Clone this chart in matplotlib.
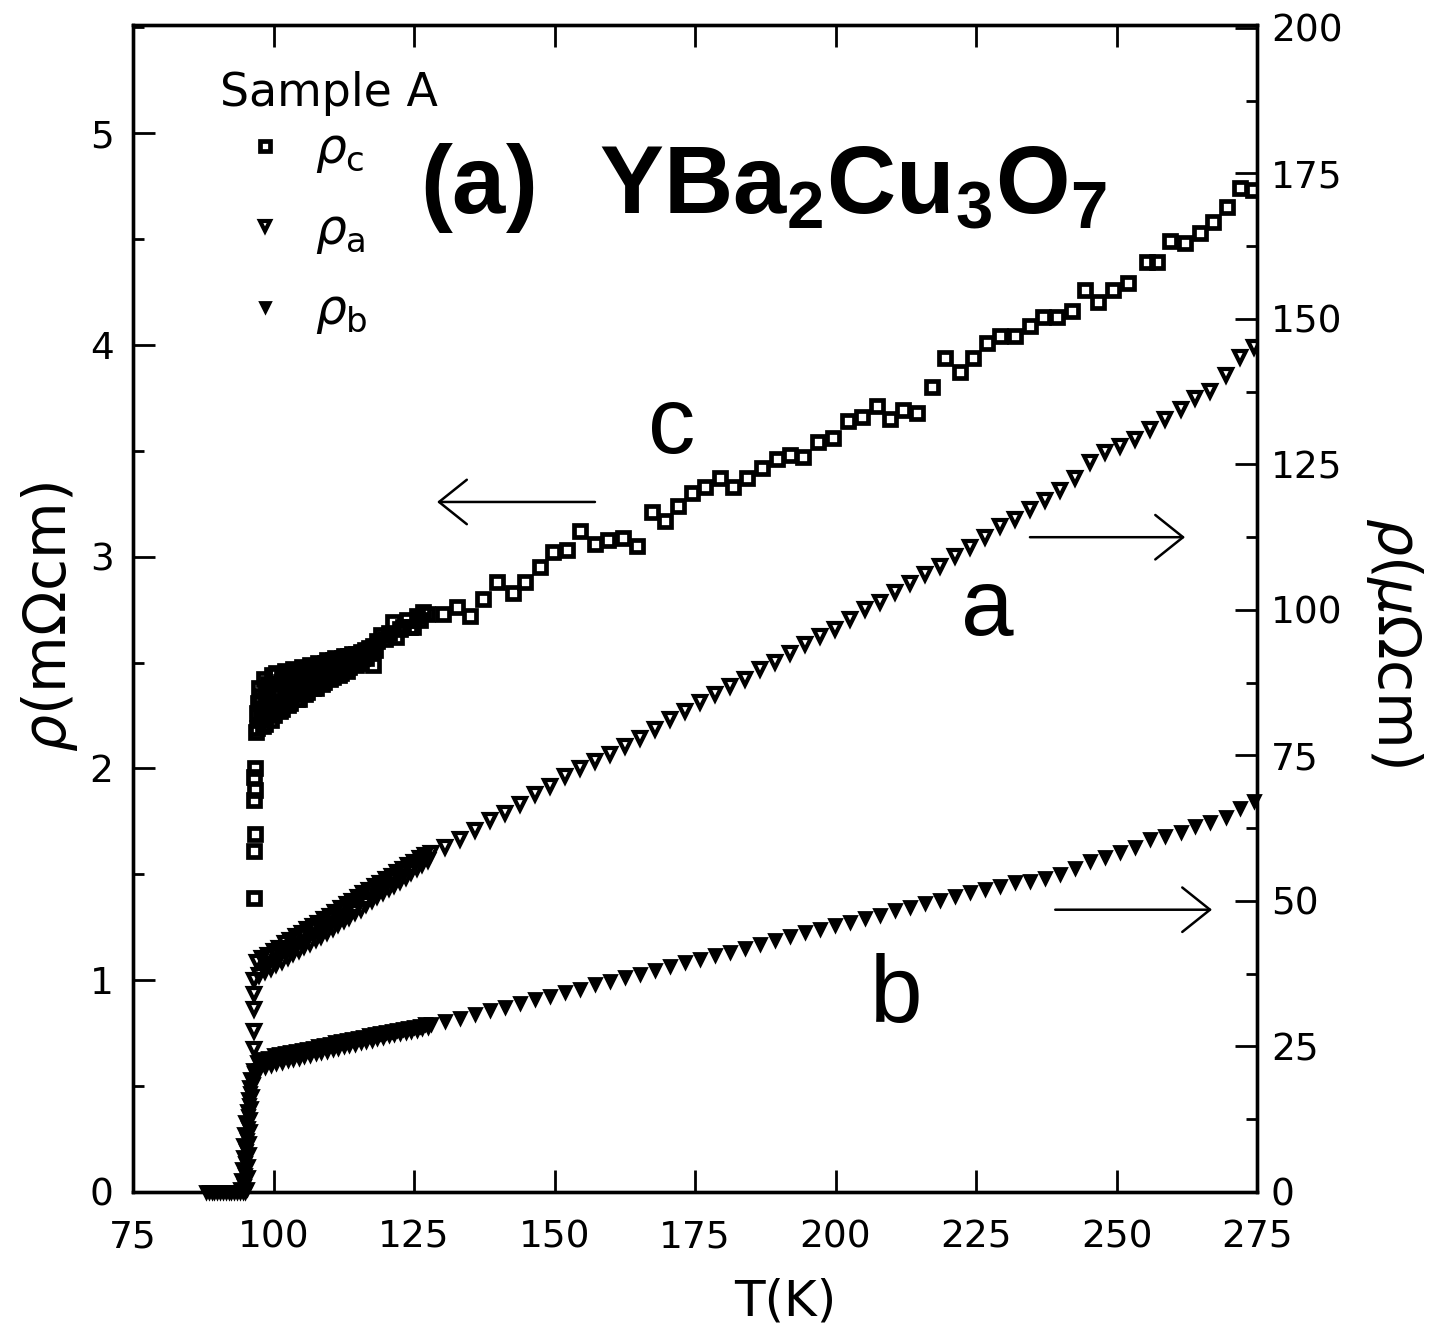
import matplotlib
matplotlib.use('Agg')
import matplotlib.pyplot as plt
from matplotlib import font_manager
from matplotlib.ticker import MultipleLocator

# values
# rho_c in mOhm cm (left axis), rho_a and rho_b in uOhm cm (right axis)

# c-axis: superconducting drop, dense band, then sparse points
T_c_drop = [96.6, 96.6, 96.7, 96.6, 96.7, 96.6, 96.7, 96.8]
rho_c_drop = [1.39, 1.61, 1.69, 1.85, 1.90, 1.96, 2.00, 2.17]

T_c_band = [97.0, 97.5, 98.0, 98.5, 99.0, 99.5, 100.0, 100.5, 101.0, 101.5,
            102.0, 102.5, 103.0, 103.5, 104.0, 104.5, 105.0, 105.5, 106.0, 106.5,
            107.0, 107.5, 108.0, 108.5, 109.0, 109.5, 110.0, 110.5, 111.0, 111.5,
            112.0, 112.5, 113.0, 113.5, 114.0, 114.5, 115.0, 115.5, 116.0, 116.5,
            117.0, 117.5, 118.0, 117.7, 118.5, 119.2, 119.8, 120.5, 121.3, 121.8,
            122.5, 123.0, 123.8, 124.3, 124.8, 125.5, 126.0, 126.6]
rho_c_band = [2.19, 2.38, 2.28, 2.21, 2.40, 2.30, 2.25, 2.45, 2.35, 2.28,
              2.46, 2.37, 2.31, 2.47, 2.39, 2.33, 2.48, 2.41, 2.36, 2.49,
              2.43, 2.38, 2.50, 2.44, 2.41, 2.51, 2.46, 2.43, 2.52, 2.47,
              2.45, 2.53, 2.49, 2.48, 2.54, 2.51, 2.50, 2.55, 2.53, 2.52,
              2.57, 2.56, 2.56, 2.49, 2.60, 2.63, 2.61, 2.64, 2.69, 2.62,
              2.66, 2.67, 2.70, 2.67, 2.67, 2.72, 2.70, 2.74]
T_c_fill = [97.25, 97.75, 98.25, 98.75, 99.25, 99.75, 100.25, 100.75, 101.25, 101.75,
            102.25, 102.75, 103.25, 103.75, 104.25, 104.75, 105.25, 105.75, 106.25, 106.75,
            107.25, 107.75, 108.25, 108.75, 109.25, 109.75, 110.25, 110.75, 111.25, 111.75,
            112.25, 112.75, 113.25, 113.75, 114.25, 114.75, 115.25, 115.75, 116.25, 116.75,
            117.25, 117.75]
rho_c_fill = [2.31, 2.24, 2.42, 2.33, 2.27, 2.44, 2.36, 2.30, 2.41, 2.44,
              2.33, 2.43, 2.39, 2.35, 2.45, 2.42, 2.38, 2.47, 2.44, 2.40,
              2.48, 2.46, 2.42, 2.49, 2.47, 2.45, 2.50, 2.49, 2.46, 2.51,
              2.50, 2.48, 2.53, 2.51, 2.50, 2.54, 2.53, 2.52, 2.56, 2.55,
              2.55, 2.58]
T_c_fill2 = [97.1, 97.6, 98.1, 98.6, 99.1, 99.6, 100.1, 100.6, 101.1, 101.6,
             102.1, 102.6, 103.1, 103.6, 104.1, 104.6, 105.1, 105.6, 106.1, 106.6,
             107.1, 107.6, 108.1, 108.6, 109.1, 109.6, 110.1, 110.6, 111.1, 111.6,
             112.1, 112.6, 113.1, 113.6, 114.1, 114.6]
rho_c_fill2 = [2.26, 2.34, 2.20, 2.37, 2.32, 2.23, 2.40, 2.32, 2.27, 2.42,
               2.34, 2.30, 2.44, 2.36, 2.33, 2.46, 2.39, 2.35, 2.47, 2.41,
               2.38, 2.48, 2.43, 2.40, 2.50, 2.45, 2.42, 2.51, 2.47, 2.44,
               2.52, 2.49, 2.46, 2.53, 2.51, 2.49]

T_c_tail = [127.3, 130.2, 132.7, 135.0, 137.3, 139.8, 142.6, 144.8, 147.4, 149.7,
            152.2, 154.5, 157.2, 159.5, 162.2, 164.7, 167.3, 169.7, 172.0, 174.5,
            176.8, 179.4, 181.8, 184.3, 186.9, 189.6, 191.9, 194.2, 196.9, 199.6,
            202.2, 204.7, 207.4, 209.7, 212.0, 214.5, 217.2, 219.5, 222.2, 224.5,
            227.0, 229.3, 231.9, 234.6, 236.9, 239.4, 242.1, 244.4, 246.7, 249.4,
            252.0, 255.4, 257.2, 259.5, 262.2, 264.9, 267.2, 269.7, 272.0, 274.3]
rho_c_tail = [2.73, 2.73, 2.76, 2.72, 2.80, 2.88, 2.83, 2.88, 2.95, 3.02,
              3.03, 3.12, 3.06, 3.08, 3.09, 3.05, 3.21, 3.17, 3.24, 3.30,
              3.33, 3.37, 3.33, 3.37, 3.42, 3.46, 3.48, 3.47, 3.54, 3.56,
              3.64, 3.66, 3.71, 3.65, 3.69, 3.68, 3.80, 3.94, 3.87, 3.94,
              4.01, 4.04, 4.04, 4.09, 4.13, 4.13, 4.16, 4.26, 4.20, 4.26,
              4.29, 4.39, 4.39, 4.49, 4.48, 4.53, 4.58, 4.65, 4.74, 4.73]

# a- and b-axis share the temperature grid of the dense band and the sparse tail
T_band = [97.0, 97.5, 98.0, 98.5, 99.0, 99.5, 100.0, 100.5, 101.0, 101.5,
          102.0, 102.5, 103.0, 103.5, 104.0, 104.5, 105.0, 105.5, 106.0, 106.5,
          107.0, 107.5, 108.0, 108.5, 109.0, 109.5, 110.0, 110.5, 111.0, 111.5,
          112.0, 112.5, 113.0, 113.5, 114.0, 114.5, 115.0, 115.5, 116.0, 116.5,
          117.0, 117.5, 118.0, 118.5, 119.0, 119.5, 120.0, 120.5, 121.0, 121.5,
          122.0, 122.5, 123.0, 123.5, 124.0, 124.5, 125.0, 125.5, 126.0, 126.5,
          127.0, 127.5, 128.0]
T_tail = [130.5, 133.2, 135.8, 138.5, 141.2, 143.9, 146.5, 149.2, 151.9, 154.5,
          157.2, 159.9, 162.6, 165.2, 167.9, 170.6, 173.2, 175.9, 178.6, 181.2,
          183.9, 186.6, 189.3, 191.9, 194.6, 197.3, 199.9, 202.6, 205.3, 207.9,
          210.6, 213.3, 216.0, 218.6, 221.3, 224.0, 226.6, 229.3, 232.0, 234.6,
          237.3, 240.0, 242.7, 245.3, 248.0, 250.7, 253.3, 256.0, 258.7, 261.4,
          264.0, 266.7, 269.4, 272.0, 274.4]

T_a_drop = [96.5, 96.6, 96.6, 96.5, 96.6]
rho_a_drop = [24.5, 27.6, 31.4, 34.0, 36.5]
rho_a_band = [39.5, 37.2, 40.2, 37.9, 40.8, 38.5, 41.4, 39.1, 42.0, 39.7,
              42.7, 40.4, 43.3, 41.0, 43.9, 41.6, 44.5, 42.2, 45.1, 42.8,
              45.7, 43.4, 46.3, 44.0, 46.9, 44.6, 47.5, 45.4, 48.1, 46.0,
              48.8, 46.7, 49.4, 47.3, 50.0, 48.1, 50.6, 48.7, 51.3, 49.4,
              51.9, 50.1, 52.5, 50.8, 53.1, 51.5, 53.7, 52.2, 54.3, 52.8,
              54.9, 53.5, 55.5, 54.2, 56.1, 54.9, 56.7, 55.6, 57.3, 56.4,
              57.9, 57.1, 58.3]
rho_a_tail = [59.3, 60.7, 62.2, 63.9, 65.2, 66.6, 68.3, 69.8, 71.4, 72.8,
              74.1, 75.3, 76.6, 78.0, 79.6, 81.2, 82.7, 84.2, 85.6, 86.9,
              88.2, 89.8, 91.1, 92.6, 94.1, 95.6, 96.8, 98.4, 100.1, 101.4,
              103.0, 104.6, 106.1, 107.6, 109.3, 110.9, 112.6, 114.4, 115.7, 117.3,
              118.9, 120.6, 122.6, 125.4, 127.1, 128.2, 129.4, 131.1, 132.8, 134.6,
              136.5, 137.7, 140.4, 143.5, 145.2]

T_b_drop = [88.0, 88.5, 89.0, 89.5, 90.0, 90.5, 91.0, 91.5, 92.0, 92.5,
            93.0, 93.5, 94.0, 94.5, 95.0,
            94.0, 94.2, 94.4, 94.5, 94.6, 94.8, 95.0, 95.2, 95.4, 95.6, 95.8,
            94.7, 94.9, 95.0, 95.1, 95.2, 95.4, 95.5, 95.7, 95.9, 96.1, 96.3,
            95.2, 95.4, 95.5, 95.6, 95.7, 95.8, 95.9, 96.0, 96.1, 96.3, 96.5]
rho_b_drop = [0.0, 0.0, 0.0, 0.0, 0.0, 0.0, 0.0, 0.0, 0.0, 0.0,
              0.0, 0.0, 0.0, 0.0, 0.0,
              0.5, 2.0, 4.0, 6.0, 8.0, 10.0, 12.0, 14.0, 16.0, 18.0, 19.5,
              1.0, 3.0, 5.0, 7.0, 9.0, 11.0, 13.0, 15.0, 17.0, 19.0, 21.0,
              0.5, 2.5, 4.5, 6.5, 8.5, 10.5, 12.5, 14.5, 16.5, 18.5, 20.5]
rho_b_band = [22.4, 20.9, 22.9, 21.5, 23.1, 21.9, 23.5, 22.2, 23.7, 22.4,
              23.9, 22.7, 24.0, 22.9, 24.2, 23.1, 24.4, 23.3, 24.6, 23.6,
              24.8, 23.8, 25.0, 24.0, 25.3, 24.3, 25.5, 24.5, 25.7, 24.8,
              25.9, 25.0, 26.1, 25.2, 26.3, 25.5, 26.5, 25.7, 26.7, 25.9,
              26.9, 26.2, 27.1, 26.4, 27.3, 26.6, 27.5, 26.9, 27.7, 27.1,
              27.9, 27.3, 28.0, 27.5, 28.2, 27.7, 28.4, 27.9, 28.6, 28.1,
              28.8, 28.3, 28.9]
rho_b_tail = [29.3, 29.9, 30.5, 31.2, 31.8, 32.5, 33.1, 33.7, 34.4, 34.9,
              35.7, 36.2, 37.0, 37.5, 38.2, 38.8, 39.5, 40.0, 40.8, 41.3,
              42.0, 42.6, 43.3, 43.9, 44.6, 45.1, 45.8, 46.4, 47.1, 47.6,
              48.4, 49.0, 49.6, 50.2, 50.9, 51.5, 52.1, 52.6, 53.3, 53.5,
              53.9, 54.6, 55.6, 56.8, 57.6, 58.5, 59.3, 60.6, 61.1, 61.8,
              62.8, 63.5, 64.5, 65.9, 67.1]

T_c = T_c_drop + T_c_band + T_c_fill + T_c_fill2 + T_c_tail
rho_c = rho_c_drop + rho_c_band + rho_c_fill + rho_c_fill2 + rho_c_tail
T_a = T_a_drop + T_band + T_tail
rho_a = rho_a_drop + rho_a_band + rho_a_tail
T_b = T_b_drop + T_band + T_tail
rho_b = rho_b_drop + rho_b_band + rho_b_tail

# fonts
names = {f.name for f in font_manager.fontManager.ttflist}
tickfont = 'Liberation Sans Narrow' if 'Liberation Sans Narrow' in names else 'DejaVu Sans'
ticksize = 32 if tickfont == 'Liberation Sans Narrow' else 27
plt.rcParams['font.family'] = [tickfont, 'DejaVu Sans']
plt.rcParams['mathtext.fontset'] = 'custom'
plt.rcParams['mathtext.rm'] = 'DejaVu Sans'
plt.rcParams['mathtext.it'] = 'DejaVu Sans:italic'
plt.rcParams['mathtext.bf'] = 'Liberation Sans:bold'

fig = plt.figure(figsize=(14.33, 13.37), dpi=100)
ax = fig.add_axes([133/1433, 1 - 1192/1337, 1124/1433, 1167/1337])
ax2 = ax.twinx()

hc, = ax.plot(T_c, rho_c, ls='none', marker='s', ms=9, mfc='none', mec='black', mew=3.4)
ha, = ax2.plot(T_a, rho_a, ls='none', marker='v', ms=9, mfc='none', mec='black', mew=3.0)
hb, = ax2.plot(T_b, rho_b, ls='none', marker='v', ms=9, mfc='black', mec='black', mew=2.0,
               clip_on=False)

ax.set_xlim(75, 275)
ax.set_ylim(0, 5.51)
ax2.set_ylim(0, 200.5)

ax.xaxis.set_major_locator(MultipleLocator(25))
ax.yaxis.set_major_locator(MultipleLocator(1))
ax.yaxis.set_minor_locator(MultipleLocator(0.5))
ax2.yaxis.set_major_locator(MultipleLocator(25))
ax2.yaxis.set_minor_locator(MultipleLocator(12.5))

ax.tick_params(axis='x', which='major', direction='in', length=16, width=2,
               top=True, labelsize=ticksize, pad=20)
ax.tick_params(axis='y', which='major', direction='in', length=16, width=2,
               right=False, labelsize=ticksize, pad=14)
ax.tick_params(axis='y', which='minor', direction='in', length=8, width=2, right=False)
ax2.tick_params(axis='y', which='major', direction='in', length=16, width=2,
                labelsize=ticksize, pad=10)
ax2.tick_params(axis='y', which='minor', direction='in', length=8, width=2)
for a_ in (ax, ax2):
    for sp in a_.spines.values():
        sp.set_linewidth(2.4)

# legend (the "Sample A" heading is a separate text so the rows can sit closer)
leg = ax.legend([hc, ha, hb], [r'$\rho_{\mathrm{c}}$', r'$\rho_{\mathrm{a}}$', r'$\rho_{\mathrm{b}}$'],
                loc='upper left', bbox_to_anchor=(0.0774, 0.914),
                frameon=False, borderpad=0, borderaxespad=0, handlelength=1.85,
                handletextpad=0.1, labelspacing=0.62, numpoints=1, markerscale=0.85,
                prop={'family': 'DejaVu Sans', 'size': 35})
ax.text(0.0774, 0.9415, 'Sample A', transform=ax.transAxes, fontsize=33,
        family='DejaVu Sans', ha='left', va='center')

ax.text(0.2553, 0.839, r'$\mathbf{(a)\ \ YBa_2Cu_3O_7}$', transform=ax.transAxes,
        fontsize=69, ha='left', va='baseline')

for lbl, x, y in [('c', 0.4795, 0.633), ('a', 0.760, 0.4773), ('b', 0.679, 0.1457)]:
    ax.text(x, y, lbl, transform=ax.transAxes, fontsize=68, family='Liberation Sans',
            ha='center', va='baseline')

arrow = dict(arrowstyle='->,head_length=0.8,head_width=0.64', lw=1.8, color='black',
             mutation_scale=25, shrinkA=0, shrinkB=0)
ax.annotate('', xy=(129.1, 3.258), xytext=(157.2, 3.258), arrowprops=arrow)
ax2.annotate('', xy=(262.2, 112.5), xytext=(234.6, 112.5), arrowprops=arrow)
ax2.annotate('', xy=(267.0, 48.5), xytext=(239.1, 48.5), arrowprops=arrow)

fig.text(50/1433, 1 - 617/1337, r'$\rho$(mΩcm)', rotation=90, ha='center', va='center',
         fontsize=42, family='DejaVu Sans')
fig.text(1395/1433, 1 - 642/1337, r'$\rho$($\mu$Ωcm)', rotation=270, ha='center', va='center',
         fontsize=42, family='DejaVu Sans')
fig.text(785/1433, 1 - 1302/1337, 'T(K)', ha='center', va='center',
         fontsize=36, family='DejaVu Sans')

fig.savefig('out.png', dpi=100)
